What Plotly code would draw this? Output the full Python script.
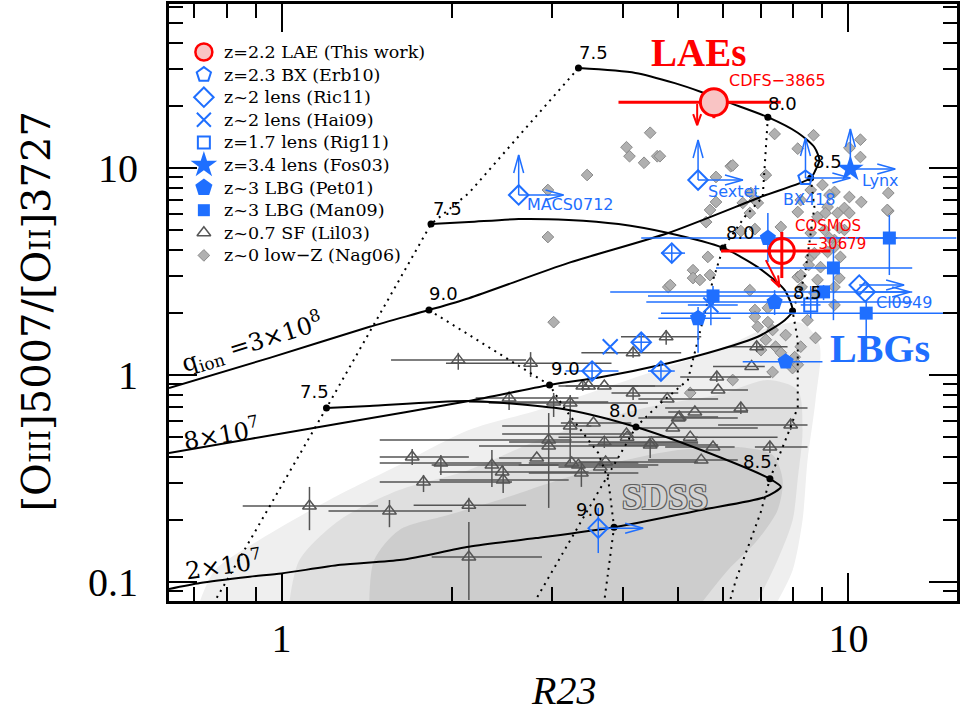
import numpy as np
import plotly.graph_objects as go

# ---------------- plot geometry ----------------
W, H = 960, 719
M_L, M_R, M_T, M_B = 169, 0, 4, 118
X_RANGE = [-0.1986, 1.1916]          # log10(R23)
Y_RANGE = [-1.0918, 1.7923]          # log10([OIII]/[OII])
PLOT_W, PLOT_H = W - M_L - M_R, H - M_T - M_B
X_PPD = PLOT_W / (X_RANGE[1] - X_RANGE[0])   # pixels per decade
Y_PPD = PLOT_H / (Y_RANGE[1] - Y_RANGE[0])

BLUE = "#1f6fff"
RED = "#ff0000"
TRI_GRAY = "#555555"

# ---------------- photoionisation model grid ----------------
q3e8_r23 = [3.34, 4.21, 4.94, 5.50, 6.13, 7.21, 8.14, 8.71, 8.89, 8.75, 8.58, 7.00, 4.81, 3.21, 2.14, 1.82, 1.43, 0.953, 0.633]
q3e8_o32 = [30.4, 28.8, 25.7, 23.3, 20.8, 17.6, 14.8, 12.6, 10.9, 9.78, 8.95, 7.24, 4.85, 3.48, 2.35, 2.06, 1.71, 1.21, 0.865]

q8e7_r23 = [1.835, 2.14, 2.62, 3.21, 3.93, 4.81, 6.01, 6.92, 7.72, 7.97, 7.72, 6.92, 5.89, 4.81, 3.67, 2.97, 2.14, 1.28, 0.879, 0.633]
q8e7_o32 = [5.36, 5.48, 5.67, 5.61, 5.36, 4.85, 4.11, 3.32, 2.57, 2.04, 1.84, 1.53, 1.32, 1.14, 0.978, 0.895, 0.749, 0.586, 0.491, 0.420]

q2e7_r23 = [1.20, 1.43, 2.14, 3.21, 4.22, 5.50, 7.27, 7.60, 7.12, 5.50, 3.86, 2.81, 2.14, 1.63, 1.27, 1.00, 0.879, 0.718, 0.633]
q2e7_o32 = [0.693, 0.708, 0.749, 0.678, 0.561, 0.434, 0.315, 0.288, 0.257, 0.223, 0.184, 0.163, 0.148, 0.128, 0.121, 0.110, 0.106, 0.0989, 0.0925]

# iso-metallicity tracks 12+log(O/H) = 7.5, 8.0, 8.5, 9.0
z75_r23 = [3.34, 2.14, 1.835, 1.20, 0.763]
z75_o32 = [30.4, 7.57, 5.36, 0.693, 0.081]
z80_r23 = [7.21, 7.06, 6.56, 6.01, 5.77, 5.50, 5.21, 4.62, 4.22, 2.80]
z80_o32 = [17.6, 7.24, 5.80, 4.11, 2.88, 1.71, 0.946, 0.716, 0.561, 0.081]
z85_r23 = [8.58, 8.71, 8.37, 7.97, 8.14, 8.14, 7.91, 7.27, 7.00, 6.33, 6.18]
z85_o32 = [8.95, 6.48, 2.97, 2.04, 1.48, 0.700, 0.561, 0.315, 0.216, 0.102, 0.081]
z90_r23 = [1.82, 2.97, 3.17, 3.44, 3.62, 3.77, 3.86, 3.71]
z90_o32 = [2.06, 0.895, 0.678, 0.501, 0.420, 0.311, 0.184, 0.081]

node_r23 = [3.34, 7.21, 8.58, 1.82, 1.835, 6.01, 7.97, 2.97, 1.20, 4.22, 7.27, 3.86]
node_o32 = [30.4, 17.6, 8.95, 2.06, 5.36, 4.11, 2.04, 0.895, 0.693, 0.561, 0.315, 0.184]
node_labels = ["7.5", "8.0", "8.5", "9.0"] * 3

# ---------------- SDSS star-forming galaxies (density outline) ----------------
sdss_outer_r23 = [0.718, 0.763, 0.915, 1.214, 1.612, 2.140, 2.841, 3.621, 4.617, 5.885, 7.207, 8.30, 8.892, 8.750, 8.471, 8.30, 7.973, 7.503]
sdss_outer_o32 = [0.081, 0.114, 0.160, 0.249, 0.367, 0.542, 0.678, 0.846, 1.06, 1.32, 1.69, 1.78, 1.40, 0.757, 0.388, 0.199, 0.114, 0.081]
sdss_mid_r23 = [1.033, 1.076, 1.265, 1.612, 2.140, 2.841, 3.621, 4.617, 5.885, 7.207, 8.136, 8.30, 8.136, 7.973, 7.503, 6.920]
sdss_mid_o32 = [0.081, 0.128, 0.199, 0.278, 0.348, 0.485, 0.607, 0.716, 0.800, 0.946, 0.846, 0.542, 0.311, 0.199, 0.128, 0.081]
sdss_core_r23 = [1.428, 1.457, 1.612, 1.974, 2.416, 3.081, 3.926, 5.005, 6.380, 7.354, 7.656, 7.503, 6.920, 6.128, 5.54]
sdss_core_o32 = [0.081, 0.128, 0.178, 0.211, 0.249, 0.311, 0.380, 0.434, 0.449, 0.411, 0.311, 0.223, 0.160, 0.114, 0.081]

# ---------------- z~0 low-Z galaxies (Nag06) ----------------
nag_r23 = [4.47, 4.06, 4.11, 4.36, 4.60, 3.46, 6.20, 7.41, 7.15, 8.14,
           8.68, 10.5, 10.5, 11.76, 11.76, 10.04, 10.54, 10.04, 9.45, 9.19,
           8.82, 8.14, 8.24, 6.84, 5.84, 5.84, 5.70, 5.61, 6.73, 7.60,
           2.95, 2.95, 5.65, 5.32, 5.32, 5.70, 4.81, 3.02, 6.70, 6.84,
           8.58, 9.57, 9.84, 9.45, 9.68, 8.58, 8.93, 8.14, 9.45, 9.45,
           4.65, 6.25, 6.51, 6.92, 6.70, 6.84, 6.46, 8.58, 9.00, 9.26,
           9.84, 10.04, 9.11, 9.08, 9.64, 9.26, 9.45, 9.19, 8.71, 8.51,
           8.24, 8.82, 8.27, 8.71, 9.64, 11.71, 5.47, 4.85, 7.21, 7.21,
           6.92, 7.35, 7.15, 7.44, 7.01, 7.75, 7.60, 8.47, 8.75, 8.24,
           8.04, 7.97, 8.14, 7.35, 6.25, 5.26, 6.84]
nag_o32 = [14.8, 12.6, 11.4, 10.6, 11.4, 9.25, 10.2, 14.6, 9.25, 12.4,
           14.4, 13.7, 11.3, 7.57, 6.20, 12.5, 6.85, 7.24, 7.66, 6.48,
           5.80, 6.13, 7.00, 7.00, 9.05, 6.85, 6.27, 5.48, 7.57, 5.19,
           7.83, 4.64, 3.72, 3.21, 2.94, 3.04, 2.66, 1.80, 2.57, 2.06,
           4.85, 6.06, 5.02, 4.49, 3.72, 3.72, 3.32, 2.97, 2.66, 2.18,
           11.4, 10.3, 6.78, 6.78, 6.06, 5.07, 4.96, 7.83, 8.28, 7.41,
           6.41, 6.06, 6.06, 5.02, 5.13, 4.59, 4.15, 3.93, 3.88, 3.40,
           3.04, 2.88, 2.66, 2.49, 2.94, 6.27, 2.88, 2.72, 2.11, 1.80,
           1.71, 1.65, 1.48, 1.37, 1.32, 1.56, 1.28, 1.84, 1.51, 1.37,
           1.22, 1.08, 1.12, 1.034, 0.946, 0.819, 1.91]

# ---------------- z~0.7 star-forming galaxies (Lil03) ----------------
lil_r23 = [2.05, 2.75, 3.40, 3.48, 3.71, 4.17, 4.79, 2.52, 3.02, 3.23,
           3.23, 3.55, 2.96, 2.96, 3.71, 4.07, 4.47, 4.90, 5.26, 5.01,
           5.36, 1.70, 1.91, 2.35, 2.45, 2.46, 2.82, 3.25, 3.34, 3.65,
           3.73, 3.38, 1.78, 1.55, 1.12, 2.14, 2.14, 4.77, 4.17, 5.86,
           5.89, 6.89, 6.75, 6.46, 7.91, 7.27, 5.77, 5.50, 5.03, 4.49, 4.06]
lil_o32 = [1.18, 1.14, 0.885, 0.885, 0.885, 0.819, 0.766, 0.774, 0.741, 0.733,
           0.567, 0.586, 0.485, 0.454, 0.474, 0.501, 0.459, 0.555, 0.501, 0.620,
           0.663, 0.402, 0.376, 0.367, 0.340, 0.311, 0.397, 0.376, 0.367, 0.359,
           0.380, 0.336, 0.304, 0.220, 0.233, 0.235, 0.132, 1.53, 1.28, 0.978,
           0.846, 1.37, 1.10, 0.693, 0.573, 0.449, 0.449, 0.388, 0.627, 0.469, 0.519]
lil_r23_lo = [1.56, 1.95, 3.17, 3.08, 3.38, 3.82, 4.26, 2.20, 2.14, 2.32,
              2.45, 3.11, 1.49, 2.23, 2.52, 3.08, 3.48, 4.26, 4.43, 4.26,
              4.81, 1.49, 1.49, 1.84, 1.90, 1.90, 2.42, 2.73, 2.62, 3.08,
              3.34, 2.73, 1.49, 1.21, 0.854, 1.71, 1.84, 3.97, 3.38, 5.05,
              5.21, 6.13, 5.77, 4.75, 5.89, 6.84, 4.75, 4.43, 4.43, 3.62, 2.45]
lil_r23_hi = [2.70, 3.82, 4.56, 4.26, 5.07, 5.01, 5.89, 3.34, 3.77, 4.43,
              3.52, 4.14, 3.25, 4.62, 5.43, 5.43, 5.89, 6.92, 7.50, 6.38,
              6.65, 2.14, 2.65, 3.08, 3.48, 3.21, 3.93, 4.26, 4.62, 4.43,
              5.43, 4.26, 2.55, 2.00, 1.48, 2.70, 2.88, 5.50, 5.07, 7.30,
              6.65, 7.81, 7.12, 8.47, 8.47, 8.47, 6.30, 6.38, 5.89, 5.43, 4.14]
lil_o32_lo = [1.06, 0.978, 0.837, 0.885, 0.885, 0.757, 0.766, 0.678, 0.627, 0.376,
              0.525, 0.586, 0.228, 0.454, 0.444, 0.501, 0.397, 0.555, 0.501, 0.620,
              0.663, 0.367, 0.329, 0.288, 0.340, 0.269, 0.397, 0.376, 0.367, 0.359,
              0.380, 0.288, 0.272, 0.184, 0.178, 0.218, 0.0819, 1.40, 1.21, 0.925,
              0.846, 1.29, 1.10, 0.648, 0.542, 0.420, 0.449, 0.388, 0.627, 0.469, 0.519]
lil_o32_hi = [1.28, 1.29, 0.936, 0.885, 0.885, 0.885, 0.766, 0.819, 0.819, 0.800,
              0.620, 0.586, 0.655, 0.454, 0.507, 0.501, 0.485, 0.555, 0.501, 0.620,
              0.663, 0.439, 0.411, 0.434, 0.340, 0.363, 0.397, 0.376, 0.367, 0.359,
              0.380, 0.376, 0.329, 0.249, 0.288, 0.255, 0.195, 1.65, 1.35, 1.03,
              0.846, 1.44, 1.10, 0.741, 0.607, 0.480, 0.449, 0.388, 0.627, 0.469, 0.519]

# ---------------- high-z comparison samples ----------------
erb_r23, erb_o32, erb_lim = [8.40], [8.95], ["ur"]

ric_r23 = [2.62, 5.43, 10.45, 10.71, 4.88, 4.31, 3.53, 4.67, 3.62]
ric_o32 = [7.41, 8.75, 2.72, 2.52, 3.88, 1.44, 1.045, 1.045, 0.182]
ric_r23_lo = [2.62, 5.43, 10.45, 10.71, 4.67, 4.17, 3.17, 4.43, 3.62]
ric_r23_hi = [2.62, 5.43, 10.45, 10.71, 5.15, 4.47, 3.93, 4.94, 3.62]
ric_o32_lo = [7.41, 8.75, 2.72, 2.52, 3.48, 1.32, 0.957, 0.957, 0.138]
ric_o32_hi = [7.41, 8.75, 2.72, 2.52, 4.25, 1.58, 1.14, 1.14, 0.228]
ric_lim = ["ur", "ur", "r", "r", "", "", "", "", "r"]

hai_r23, hai_o32 = [3.80, 5.72], [1.37, 2.18]
hai_r23_lo, hai_r23_hi = [3.80, 5.21], [3.80, 6.38]
hai_o32_lo, hai_o32_hi = [1.37, 1.74], [1.37, 2.57]

rig_r23, rig_o32 = [8.58], [2.18]
rig_r23_lo, rig_r23_hi = [8.24], [8.93]
rig_o32_lo, rig_o32_hi = [1.88], [2.69]

fos_r23, fos_o32, fos_lim = [10.08], [9.89], ["ur"]

pet_r23 = [7.21, 7.41, 5.43, 7.75]
pet_o32 = [4.59, 2.25, 1.88, 1.16]
pet_r23_lo = [4.31, 4.40, 4.62, 6.51]
pet_r23_hi = [12.2, 12.96, 6.20, 9.00]
pet_o32_lo = [3.51, 1.95, 1.28, 1.16]
pet_o32_hi = [6.06, 2.57, 2.13, 1.16]

man_r23 = [11.81, 9.41, 9.04, 10.75, 5.77]
man_o32 = [4.59, 3.29, 2.52, 1.99, 2.41]
man_r23_lo = [9.19, 5.84, 3.80, 4.67, 4.43]
man_r23_hi = [15.5, 12.96, 12.96, 15.5, 8.24]
man_o32_lo = [3.04, 1.84, 2.30, 1.28, 2.18]
man_o32_hi = [5.93, 4.15, 2.72, 2.30, 2.69]

# ---------------- z=2.2 LAEs (this work) ----------------
lae_r23 = [5.79, 7.63]
lae_o32 = [20.8, 3.97]
lae_r23_lo = [3.93, 5.96]
lae_r23_hi = [7.60, 9.30]
lae_o32_lo = [17.4, 2.94]
lae_o32_hi = [20.8, 4.91]
lae_lim_r23 = [5.41, 7.15]
lae_lim_o32 = [20.4, 3.59]
lae_lim_r23_end = [5.41, 7.56]
lae_lim_o32_end = [16.1, 2.66]

legend_labels = ["z=2.2 LAE (This work)", "z=2.3 BX (Erb10)", "z~2 lens (Ric11)",
                 "z~2 lens (Hai09)", "z=1.7 lens (Rig11)", "z=3.4 lens (Fos03)",
                 "z~3 LBG (Pet01)", "z~3 LBG (Man09)", "z~0.7 SF (Lil03)",
                 "z~0 low\u2212Z (Nag06)"]


# ---------------- helpers ----------------
def err(v, lo, hi, color, thick):
    v, lo, hi = (np.asarray(a, float) for a in (v, lo, hi))
    return dict(type="data", symmetric=False, array=hi - v, arrayminus=v - lo,
                color=color, thickness=thick, width=0)


def arrow_segments(x0, y0, x1, y1, back, spread):
    """Shaft plus open V head, head geometry set in screen pixels."""
    p0 = np.array([np.log10(x0) * X_PPD, np.log10(y0) * Y_PPD])
    p1 = np.array([np.log10(x1) * X_PPD, np.log10(y1) * Y_PPD])
    u = (p1 - p0) / np.hypot(*(p1 - p0))
    n = np.array([-u[1], u[0]])
    h = p1 - back * u
    b1, b2 = h + spread * n, h - spread * n
    to = lambda p: (10 ** (p[0] / X_PPD), 10 ** (p[1] / Y_PPD))
    xs, ys = [], []
    for seg in ([(x0, y0), (x1, y1)], [to(b1), (x1, y1), to(b2)]):
        for px, py in seg:
            xs.append(px)
            ys.append(py)
        xs.append(None)
        ys.append(None)
    return xs, ys


def limit_arrows(xs, ys, flags, up_len=40, right_len=45):
    ax, ay = [], []
    for x, y, f in zip(xs, ys, flags):
        if "u" in f:
            sx, sy = arrow_segments(x, y, x, y * 10 ** (up_len / Y_PPD), 18, 5)
            ax += sx
            ay += sy
        if "r" in f:
            sx, sy = arrow_segments(x, y, x * 10 ** (right_len / X_PPD), y, 18, 5)
            ax += sx
            ay += sy
    return ax, ay


fig = go.Figure()

# SDSS density outline
for xs, ys, col in [(sdss_outer_r23, sdss_outer_o32, "#efefef"),
                    (sdss_mid_r23, sdss_mid_o32, "#dfdfdf"),
                    (sdss_core_r23, sdss_core_o32, "#cdcdcd")]:
    fig.add_trace(go.Scatter(x=xs, y=ys, mode="lines", fill="toself", fillcolor=col,
                             line=dict(color=col, width=0, shape="spline", smoothing=0.8),
                             hoverinfo="skip", showlegend=False))

# Nag06
NAG_MARK = dict(symbol="diamond", size=9, color="#b0b0b0", line=dict(color="#8a8a8a", width=1))
fig.add_trace(go.Scatter(x=nag_r23, y=nag_o32, mode="markers", marker=NAG_MARK, showlegend=False))
# Lil03
LIL_MARK = dict(symbol="triangle-up-open", size=12, color=TRI_GRAY, line=dict(color=TRI_GRAY, width=1.5))
fig.add_trace(go.Scatter(x=lil_r23, y=lil_o32, mode="markers", showlegend=False,
                         error_x=err(lil_r23, lil_r23_lo, lil_r23_hi, TRI_GRAY, 1.5),
                         error_y=err(lil_o32, lil_o32_lo, lil_o32_hi, TRI_GRAY, 1.5),
                         marker=LIL_MARK))

# model grid
for xs, ys in [(q3e8_r23, q3e8_o32), (q8e7_r23, q8e7_o32), (q2e7_r23, q2e7_o32)]:
    fig.add_trace(go.Scatter(x=xs, y=ys, mode="lines", showlegend=False, hoverinfo="skip",
                             line=dict(color="black", width=2, shape="spline", smoothing=0.7)))
for xs, ys in [(z75_r23, z75_o32), (z80_r23, z80_o32), (z85_r23, z85_o32), (z90_r23, z90_o32)]:
    fig.add_trace(go.Scatter(x=xs, y=ys, mode="lines", showlegend=False, hoverinfo="skip",
                             line=dict(color="black", width=2, dash="2px,5px")))
fig.add_trace(go.Scatter(x=node_r23, y=node_o32, mode="markers", showlegend=False, hoverinfo="skip",
                         marker=dict(color="black", size=7)))

# blue samples
ERB_MARK = dict(symbol="pentagon-open", size=15, color=BLUE, line=dict(width=2))
RIC_MARK = dict(symbol="diamond-open", size=15, color=BLUE, line=dict(width=2))
HAI_MARK = dict(symbol="x-thin-open", size=15, color=BLUE, line=dict(width=2, color=BLUE))
RIG_MARK = dict(symbol="square-open", size=13, color=BLUE, line=dict(width=2))
FOS_MARK = dict(symbol="star", size=20, color=BLUE)
PET_MARK = dict(symbol="pentagon", size=17, color=BLUE)
MAN_MARK = dict(symbol="square", size=13, color=BLUE)

fig.add_trace(go.Scatter(x=erb_r23, y=erb_o32, mode="markers", marker=ERB_MARK, showlegend=False))
fig.add_trace(go.Scatter(x=ric_r23, y=ric_o32, mode="markers", marker=RIC_MARK, showlegend=False,
                         error_x=err(ric_r23, ric_r23_lo, ric_r23_hi, BLUE, 1.5),
                         error_y=err(ric_o32, ric_o32_lo, ric_o32_hi, BLUE, 1.5)))
fig.add_trace(go.Scatter(x=hai_r23, y=hai_o32, mode="markers", marker=HAI_MARK, showlegend=False,
                         error_x=err(hai_r23, hai_r23_lo, hai_r23_hi, BLUE, 1.5),
                         error_y=err(hai_o32, hai_o32_lo, hai_o32_hi, BLUE, 1.5)))
fig.add_trace(go.Scatter(x=rig_r23, y=rig_o32, mode="markers", marker=RIG_MARK, showlegend=False,
                         error_x=err(rig_r23, rig_r23_lo, rig_r23_hi, BLUE, 1.5),
                         error_y=err(rig_o32, rig_o32_lo, rig_o32_hi, BLUE, 1.5)))
fig.add_trace(go.Scatter(x=fos_r23, y=fos_o32, mode="markers", marker=FOS_MARK, showlegend=False))
fig.add_trace(go.Scatter(x=pet_r23, y=pet_o32, mode="markers", marker=PET_MARK, showlegend=False,
                         error_x=err(pet_r23, pet_r23_lo, pet_r23_hi, BLUE, 1.5),
                         error_y=err(pet_o32, pet_o32_lo, pet_o32_hi, BLUE, 1.5)))
fig.add_trace(go.Scatter(x=man_r23, y=man_o32, mode="markers", marker=MAN_MARK, showlegend=False,
                         error_x=err(man_r23, man_r23_lo, man_r23_hi, BLUE, 1.5),
                         error_y=err(man_o32, man_o32_lo, man_o32_hi, BLUE, 1.5)))

bx, by = [], []
for xs, ys, fl in [(erb_r23, erb_o32, erb_lim), (ric_r23, ric_o32, ric_lim), (fos_r23, fos_o32, fos_lim)]:
    sx, sy = limit_arrows(xs, ys, fl)
    bx += sx
    by += sy
fig.add_trace(go.Scatter(x=bx, y=by, mode="lines", showlegend=False, hoverinfo="skip",
                         line=dict(color=BLUE, width=1.5)))

# LAEs
LAE_MARK = dict(symbol="circle", size=27, color="#f9c4c4", line=dict(color=RED, width=3))
fig.add_trace(go.Scatter(x=lae_r23[:1], y=lae_o32[:1], mode="markers", showlegend=False,
                         error_x=err(lae_r23[:1], lae_r23_lo[:1], lae_r23_hi[:1], RED, 3),
                         error_y=err(lae_o32[:1], lae_o32_lo[:1], lae_o32_hi[:1], RED, 3),
                         marker=LAE_MARK))
fig.add_trace(go.Scatter(x=lae_r23[1:], y=lae_o32[1:], mode="markers", showlegend=False,
                         error_x=err(lae_r23[1:], lae_r23_lo[1:], lae_r23_hi[1:], RED, 3),
                         error_y=err(lae_o32[1:], lae_o32_lo[1:], lae_o32_hi[1:], RED, 3),
                         marker=dict(symbol="circle-open", size=25, color=RED, line=dict(color=RED, width=3))))
rx, ry = [], []
for x0, y0, x1, y1 in zip(lae_lim_r23, lae_lim_o32, lae_lim_r23_end, lae_lim_o32_end):
    sx, sy = arrow_segments(x0, y0, x1, y1, 11, 4)
    rx += sx
    ry += sy
fig.add_trace(go.Scatter(x=rx, y=ry, mode="lines", showlegend=False, hoverinfo="skip",
                         line=dict(color=RED, width=2)))

# ---------------- key (drawn on an overlay axis spanning the plot area) ----------------
key_marks = [dict(LAE_MARK, size=17, line=dict(color=RED, width=2.5)), ERB_MARK, RIC_MARK,
             dict(HAI_MARK, size=14), dict(RIG_MARK, size=12), FOS_MARK, dict(PET_MARK, size=18),
             dict(MAN_MARK, size=12), LIL_MARK, NAG_MARK]
KEY_X_SYM, KEY_X_TXT, KEY_TOP, KEY_STEP = 204, 222, 52, 22.6     # pixels
for i, (label, mk) in enumerate(zip(legend_labels, key_marks)):
    py = KEY_TOP + KEY_STEP * i
    ypap = (H - M_B - py) / PLOT_H
    fig.add_trace(go.Scatter(x=[(KEY_X_SYM - M_L) / PLOT_W], y=[ypap], mode="markers", marker=mk,
                             xaxis="x2", yaxis="y2", showlegend=False, hoverinfo="skip", cliponaxis=False))
    fig.add_annotation(xref="paper", yref="paper", x=(KEY_X_TXT - M_L) / PLOT_W, y=ypap,
                       xanchor="left", yanchor="middle", showarrow=False, text=label,
                       font=dict(family="DejaVu Serif", size=17.5, color="black"))


# ---------------- text ----------------
def note(x, y, text, size, color="black", family="Liberation Sans", angle=0, xshift=0, yshift=0, **font):
    fig.add_annotation(x=np.log10(x), y=np.log10(y), xref="x", yref="y", text=text, showarrow=False,
                       textangle=angle, xshift=xshift, yshift=yshift,
                       font=dict(family=family, size=size, color=color, **font))


# grid node labels, offset from their nodes in pixels
node_label_shift = [(15, 16), (15, 14), (17, 16), (15, 17),
                    (16, 16), (17, 15), (15, 18), (16, 16),
                    (-12, 16), (-13, 16), (-12, 17), (-24, 18)]
for x, y, t, (dx, dy) in zip(node_r23, node_o32, node_labels, node_label_shift):
    note(x, y, t, 18, family="DejaVu Sans", xshift=dx, yshift=dy)

note(0.886, 1.44, "q<sub>ion</sub> =3\u00d710<sup>8</sup>", 24, family="DejaVu Serif", angle=-17)
note(0.785, 0.525, "8\u00d710<sup>7</sup>", 24, family="DejaVu Serif", angle=-10)
note(0.791, 0.122, "2\u00d710<sup>7</sup>", 24, family="DejaVu Serif", angle=-8)

note(5.45, 36.3, "LAEs", 39, color=RED, family="Liberation Serif", weight="bold")
note(11.38, 1.34, "LBGs", 40, color=BLUE, family="Liberation Serif", weight="bold")
note(4.75, 0.257, "SDSS", 36, color="#d2d2d2", family="Liberation Serif", weight="bold",
     shadow="-1px -1px 0 #5f5f5f, 1px -1px 0 #5f5f5f, -1px 1px 0 #5f5f5f, 1px 1px 0 #5f5f5f")

note(7.50, 26.6, "CDFS\u22123865", 16, color=RED, family="DejaVu Sans")
note(9.19, 5.25, "COSMOS", 15, color=RED, family="DejaVu Sans")
note(9.49, 4.28, "\u221230679", 15, color=RED, family="DejaVu Sans")

note(3.23, 6.63, "MACS0712", 16, color=BLUE, family="DejaVu Sans")
note(6.28, 7.66, "Sextet", 16, color=BLUE, family="DejaVu Sans")
note(8.51, 7.08, "BX418", 16, color=BLUE, family="DejaVu Sans")
note(11.38, 8.66, "Lynx", 16, color=BLUE, family="DejaVu Sans")
note(12.54, 2.25, "Cl0949", 16, color=BLUE, family="DejaVu Sans")

# axis titles
fig.add_annotation(xref="paper", yref="paper", x=(35 - M_L) / PLOT_W, y=(H - M_B - 312) / PLOT_H,
                   xanchor="center", yanchor="middle", showarrow=False, textangle=-90,
                   text="[Oiii]5007/[Oii]3727",
                   font=dict(family="DejaVu Serif", size=40, color="black", variant="small-caps"))
fig.add_annotation(xref="paper", yref="paper", x=(565 - M_L) / PLOT_W, y=(H - M_B - 690) / PLOT_H,
                   xanchor="center", yanchor="middle", showarrow=False,
                   text="R23",
                   font=dict(family="Liberation Serif", size=40, color="black", style="italic"))

axis_common = dict(type="log", ticks="inside", ticklen=28, tickwidth=2, tickcolor="black",
                   showline=True, linewidth=3, linecolor="black", mirror="ticks",
                   showgrid=False, zeroline=False,
                   tickfont=dict(family="Liberation Serif", size=40, color="black"))
fig.update_layout(
    width=W, height=H, margin=dict(l=M_L, r=M_R, t=M_T, b=M_B),
    paper_bgcolor="white", plot_bgcolor="white",
    xaxis=dict(range=X_RANGE, tickvals=[1, 10], ticktext=["1", "10"], ticklabelstandoff=0,
               minor=dict(tickvals=[0.7, 0.8, 0.9, 2, 3, 4, 5, 6, 7, 8, 9],
                          ticks="inside", ticklen=14, tickwidth=2, tickcolor="black", showgrid=False),
               **axis_common),
    yaxis=dict(range=Y_RANGE, tickvals=[0.1, 1, 10], ticktext=["0.1", "1", "10"], ticklabelstandoff=20,
               minor=dict(tickvals=[0.09, 0.2, 0.3, 0.4, 0.5, 0.6, 0.7, 0.8, 0.9,
                                    2, 3, 4, 5, 6, 7, 8, 9, 20, 30, 40, 50, 60],
                          ticks="inside", ticklen=14, tickwidth=2, tickcolor="black", showgrid=False),
               **axis_common),
    xaxis2=dict(range=[0, 1], overlaying="x", visible=False, fixedrange=True),
    yaxis2=dict(range=[0, 1], overlaying="y", visible=False, fixedrange=True),
    showlegend=False,
)

fig.write_html("out.html")
